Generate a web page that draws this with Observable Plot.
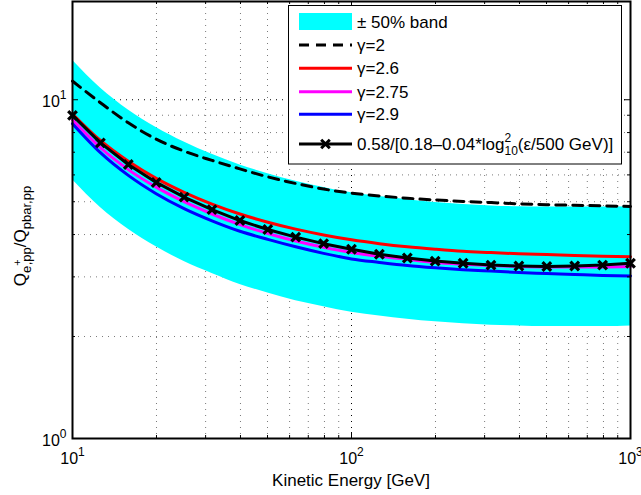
<!DOCTYPE html>
<html><head><meta charset="utf-8">
<script src="https://cdn.jsdelivr.net/npm/d3@7"></script>
<script src="https://cdn.jsdelivr.net/npm/@observablehq/plot@0.6"></script>
<style>
body{margin:0;background:#fff}
#chart{width:641px;height:495px}
</style>
</head><body><div id="chart"></div>
<script>
// Kinetic energy grid [GeV]
const energy = [10,12.59,15.85,19.95,25.12,31.62,39.81,50.12,63.10,79.43,100,125.9,158.5,199.5,251.2,316.2,398.1,501.2,631.0,794.3,1000];
// gamma = 2 (dashed)
const gamma20 = [11.35,9.80,8.55,7.65,7.05,6.62,6.25,5.92,5.66,5.45,5.30,5.20,5.12,5.06,5.01,4.97,4.93,4.90,4.88,4.86,4.84];
// gamma = 2.6 (red)
const gamma26 = [9.08,7.58,6.58,5.86,5.33,4.92,4.60,4.35,4.15,3.99,3.86,3.76,3.68,3.62,3.57,3.54,3.51,3.49,3.47,3.45,3.44];
// gamma = 2.75 (magenta)
const gamma275 = [8.72,7.22,6.22,5.52,5.00,4.60,4.28,4.03,3.83,3.67,3.54,3.45,3.38,3.31,3.27,3.24,3.22,3.21,3.21,3.21,3.22];
// gamma = 2.9 (blue)
const gamma29 = [8.50,6.98,5.98,5.28,4.77,4.39,4.09,3.87,3.68,3.52,3.39,3.31,3.24,3.19,3.15,3.12,3.09,3.07,3.05,3.03,3.02];
// fit curve 0.58/[0.18-0.04 log^2(E/500 GeV)] with markers
const fitCurve = [8.99,7.46,6.44,5.70,5.16,4.74,4.40,4.14,3.93,3.76,3.62,3.50,3.41,3.34,3.29,3.25,3.23,3.22,3.23,3.25,3.29];
// +-50% band edges
const bandHigh = [13.08,10.83,9.33,8.28,7.50,6.90,6.42,6.05,5.75,5.51,5.31,5.18,5.07,4.97,4.91,4.86,4.83,4.82,4.82,4.82,4.83];
const bandLow  = [5.81,4.81,4.15,3.68,3.33,3.07,2.85,2.69,2.55,2.45,2.36,2.30,2.25,2.21,2.18,2.16,2.15,2.14,2.14,2.14,2.15];

// axis ticks / grid
const majorX = [10,100,1000];
const minorX = [20,30,40,50,60,70,80,90,200,300,400,500,600,700,800,900];
const majorY = [1,10];
const minorY = [2,3,4,5,6,7,8,9];
const xTickLabels = ["10^1","10^2","10^3"];
const yTickLabels = ["10^0","10^1"];

const legendLabels = ["\u00B1 50% band","\u03B3=2","\u03B3=2.6","\u03B3=2.75","\u03B3=2.9"];

const rows = energy.map((E,i)=>({E, g20:gamma20[i], g26:gamma26[i], g275:gamma275[i], g29:gamma29[i], fit:fitCurve[i], hi:bandHigh[i], lo:bandLow[i]}));

const W=641, H=495, mL=72, mR=11, mT=1, mB=57;
const pH = H - mT - mB, pW = W - mL - mR;
const FONT = "'Liberation Sans', Arial, Helvetica, sans-serif";

const plot = Plot.plot({
  width: W, height: H,
  marginLeft: mL, marginRight: mR, marginTop: mT, marginBottom: mB,
  style: {fontFamily: FONT, fontSize: "16px", background: "white", color: "black", overflow: "visible"},
  x: {type: "log", domain: [10,1000], axis: null},
  y: {type: "log", domain: [1,19.5], axis: null},
  marks: [
    Plot.ruleX(minorX, {x: d=>d, stroke: "#7a7a7a", strokeWidth: 1, strokeDasharray: "1,5"}),
    Plot.ruleY(minorY, {y: d=>d, stroke: "#7a7a7a", strokeWidth: 1, strokeDasharray: "1,5"}),
    Plot.ruleX(majorX, {x: d=>d, stroke: "black", strokeWidth: 1, strokeDasharray: "1,5"}),
    Plot.ruleY(majorY, {y: d=>d, stroke: "black", strokeWidth: 1, strokeDasharray: "1,5"}),
    Plot.areaY(rows, {x: "E", y1: "lo", y2: "hi", fill: "#00ffff", curve: "monotone-x"}),
    Plot.line(rows, {x: "E", y: "g20", stroke: "black", strokeWidth: 3, strokeDasharray: "10,7", curve: "monotone-x"}),
    Plot.line(rows, {x: "E", y: "g26", stroke: "#ff0000", strokeWidth: 3, curve: "monotone-x"}),
    Plot.line(rows, {x: "E", y: "g275", stroke: "#ff00ff", strokeWidth: 3, curve: "monotone-x"}),
    Plot.line(rows, {x: "E", y: "g29", stroke: "#0000ff", strokeWidth: 3, curve: "monotone-x"}),
    Plot.line(rows, {x: "E", y: "fit", stroke: "black", strokeWidth: 3}),
    Plot.dot(rows, {x: "E", y: "fit", symbol: "times", r: 4, stroke: "black", strokeWidth: 3.2}),
    // inward ticks: bottom & top
    Plot.tickX(majorX, {x: d=>d, stroke: "black", insetTop: pH - 6}),
    Plot.tickX(majorX, {x: d=>d, stroke: "black", insetBottom: pH - 6}),
    Plot.tickX(minorX, {x: d=>d, stroke: "black", insetTop: pH - 3}),
    Plot.tickX(minorX, {x: d=>d, stroke: "black", insetBottom: pH - 3}),
    Plot.tickY(majorY, {y: d=>d, stroke: "black", insetRight: pW - 6}),
    Plot.tickY(majorY, {y: d=>d, stroke: "black", insetLeft: pW - 6}),
    Plot.tickY(minorY, {y: d=>d, stroke: "black", insetRight: pW - 3}),
    Plot.tickY(minorY, {y: d=>d, stroke: "black", insetLeft: pW - 3}),
    Plot.frame({stroke: "black", strokeWidth: 2}),
    Plot.text(majorX, {x: d=>d, frameAnchor: "bottom", text: (d,i)=>xTickLabels[i], lineAnchor: "top", dy: 14, textAnchor: "middle", fontSize: 16, fill: "black"}),
    Plot.text(majorY, {y: d=>d, frameAnchor: "left", text: (d,i)=>yTickLabels[i], textAnchor: "end", dx: -6, dy: 2, fontSize: 16, fill: "black"})
  ]
});
document.getElementById("chart").appendChild(plot);

const svg = d3.select(plot);
// superscript formatting of tick labels
svg.selectAll("text").each(function(){
  const t = d3.select(this);
  const s = this.textContent;
  if (s.includes("^")) {
    const [b, e] = s.split("^");
    t.text(null);
    t.append("tspan").text(b);
    t.append("tspan").attr("font-size", 12).attr("dy", -8).text(e);
  }
});

// axis titles
svg.append("text")
  .attr("x", mL + pW/2).attr("y", 486)
  .attr("text-anchor", "middle").attr("font-size", 17).attr("fill", "black")
  .attr("font-family", FONT)
  .text("Kinetic Energy [GeV]");

const yt = svg.append("text")
  .attr("transform", `translate(26,236) rotate(-90)`)
  .attr("text-anchor", "middle").attr("font-size", 17).attr("fill", "black")
  .attr("font-family", FONT);
yt.append("tspan").text("Q");
yt.append("tspan").attr("font-size", 13).attr("dy", 5).text("e");
yt.append("tspan").attr("font-size", 11).attr("dy", -10).text("+");
yt.append("tspan").attr("font-size", 13).attr("dy", 10).attr("dx", -6).text(",pp");
yt.append("tspan").attr("dy", -5).text("/Q");
yt.append("tspan").attr("font-size", 13).attr("dy", 5).text("pbar,pp");

// legend
const lg = svg.append("g").attr("font-family", FONT).attr("font-size", 17).attr("text-anchor", "start");
lg.append("rect").attr("x", 288.5).attr("y", 5.5).attr("width", 333).attr("height", 158.5)
  .attr("fill", "white").attr("stroke", "black").attr("stroke-width", 1);
const ys = [21.5, 45, 68.3, 91.7, 114.3, 144];
const sx0 = 299, sx1 = 352, tx = 357;
lg.append("rect").attr("x", sx0).attr("y", ys[0]-8.5).attr("width", sx1-sx0).attr("height", 17).attr("fill", "#00ffff");
lg.append("line").attr("x1", sx0).attr("x2", sx1).attr("y1", ys[1]).attr("y2", ys[1]).attr("stroke","black").attr("stroke-width",3).attr("stroke-dasharray","10,7");
lg.append("line").attr("x1", sx0).attr("x2", sx1).attr("y1", ys[2]).attr("y2", ys[2]).attr("stroke","#ff0000").attr("stroke-width",3);
lg.append("line").attr("x1", sx0).attr("x2", sx1).attr("y1", ys[3]).attr("y2", ys[3]).attr("stroke","#ff00ff").attr("stroke-width",3);
lg.append("line").attr("x1", sx0).attr("x2", sx1).attr("y1", ys[4]).attr("y2", ys[4]).attr("stroke","#0000ff").attr("stroke-width",3);
lg.append("line").attr("x1", sx0).attr("x2", sx1).attr("y1", ys[5]).attr("y2", ys[5]).attr("stroke","black").attr("stroke-width",3);
lg.append("path").attr("d", d3.symbol(d3.symbolTimes, 50)()).attr("transform", `translate(${(sx0+sx1)/2},${ys[5]})`).attr("stroke","black").attr("stroke-width",3).attr("fill","none");
legendLabels.forEach((s,i)=>{
  lg.append("text").attr("x", tx).attr("y", ys[i] + 6).attr("fill","black").attr("text-anchor","start").text(s);
});
const ft = lg.append("text").attr("x", tx).attr("y", ys[5] + 6).attr("fill","black").attr("text-anchor","start");
ft.append("tspan").text("0.58/[0.18\u20130.04*log");
ft.append("tspan").attr("font-size", 12).attr("dy", -8).text("2");
ft.append("tspan").attr("font-size", 12).attr("dy", 13).attr("dx", -6.7).text("10");
ft.append("tspan").attr("dy", -5).text("(\u03B5/500 GeV)]");
</script>
</body></html>
